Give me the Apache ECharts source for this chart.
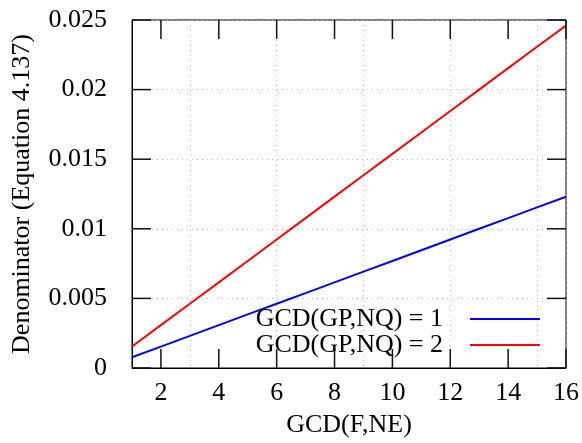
<!DOCTYPE html>
<html>
<head>
<meta charset="UTF-8">
<title>Denominator vs GCD(F,NE)</title>
<script src="https://cdn.jsdelivr.net/npm/echarts@6/dist/echarts.min.js"></script>
</head>
<body style="margin:0">
<div id="main" style="width:582px;height:443px;"></div>
<script type="text/javascript">
// data
var xValues = [1, 2, 3, 4, 5, 6, 7, 8, 9, 10, 11, 12, 13, 14, 15, 16];
var gcd1 = [0.00077, 0.00154, 0.00231, 0.00308, 0.00385, 0.00462, 0.00538, 0.00615,
            0.00692, 0.00769, 0.00846, 0.00923, 0.01000, 0.01077, 0.01154, 0.01230];
var gcd2 = [0.00154, 0.00308, 0.00462, 0.00615, 0.00769, 0.00923, 0.01077, 0.01231,
            0.01385, 0.01538, 0.01692, 0.01846, 0.02000, 0.02154, 0.02308, 0.02460];
var xTicks = [2, 4, 6, 8, 10, 12, 14, 16];
var yTicks = [0, 0.005, 0.01, 0.015, 0.02, 0.025];
var seriesNames = ['GCD(GP,NQ) = 1', 'GCD(GP,NQ) = 2'];

var font = 'Liberation Serif';
var fs = 26;
var xMin = 1, xMax = 16, yMin = 0, yMax = 0.025;

function pairs(ys) {
    var out = [];
    for (var i = 0; i < xValues.length; i++) out.push([xValues[i], ys[i]]);
    return out;
}

var myChart = echarts.init(document.getElementById('main'));

var gridLine = { show: true, lineStyle: { color: '#bbbbbb', type: [1, 4], width: 1 } };

var option = {
    animation: false,
    grid: {
        left: 132, right: 15, top: 20, bottom: 72,
        show: true, borderColor: '#000', borderWidth: 1
    },
    xAxis: {
        type: 'value', min: xMin, max: xMax,
        name: 'GCD(F,NE)', nameLocation: 'middle', nameGap: 44,
        nameTextStyle: { fontFamily: font, fontSize: fs, color: '#000' },
        axisLine: { show: true, onZero: false, lineStyle: { color: '#000' } },
        axisTick: { show: false },
        axisLabel: { customValues: xTicks, margin: 12, fontFamily: font, fontSize: fs, color: '#000' },
        splitLine: gridLine
    },
    yAxis: {
        type: 'value', min: yMin, max: yMax, interval: 0.005,
        name: 'Denominator (Equation 4.137)', nameLocation: 'middle', nameGap: 97,
        nameTextStyle: { fontFamily: font, fontSize: fs, color: '#000' },
        axisLine: { show: true, onZero: false, lineStyle: { color: '#000' } },
        axisTick: { show: false },
        axisLabel: {
            margin: 25, fontFamily: font, fontSize: fs, color: '#000',
            formatter: function (v) { return v === 0 ? '0' : String(+v.toFixed(3)); }
        },
        splitLine: gridLine
    },
    legend: {
        orient: 'vertical', align: 'right',
        right: 37, bottom: 80,
        icon: 'rect', itemWidth: 70, itemHeight: 2, itemGap: 0,
        textStyle: { fontFamily: font, fontSize: fs, color: '#000', lineHeight: 23, padding: [0, 22, 0, 0] },
        data: seriesNames
    },
    series: [{
        name: seriesNames[0], type: 'line', symbol: 'none',
        lineStyle: { color: '#0000ff', width: 2 }, itemStyle: { color: '#0000ff' },
        data: pairs(gcd1)
    }, {
        name: seriesNames[1], type: 'line', symbol: 'none',
        lineStyle: { color: '#ff0000', width: 2 }, itemStyle: { color: '#ff0000' },
        data: pairs(gcd2)
    }]
};

myChart.setOption(option);

// inward ticks on all four sides, drawn as thin filled rects placed through the chart's scales
var tickLen = 19, tickW = 1.5;
var marks = [];
function tickRect(x, y, w, h) {
    marks.push({
        type: 'rect', z: 50, silent: true,
        shape: { x: x, y: y, width: w, height: h },
        style: { fill: '#111' }
    });
}
xTicks.forEach(function (v) {
    var b = myChart.convertToPixel({ gridIndex: 0 }, [v, yMin]);
    var t = myChart.convertToPixel({ gridIndex: 0 }, [v, yMax]);
    tickRect(b[0] - tickW / 2, b[1] - tickLen, tickW, tickLen);
    tickRect(t[0] - tickW / 2, t[1], tickW, tickLen);
});
yTicks.forEach(function (v) {
    var l = myChart.convertToPixel({ gridIndex: 0 }, [xMin, v]);
    var r = myChart.convertToPixel({ gridIndex: 0 }, [xMax, v]);
    tickRect(l[0], l[1] - tickW / 2, tickLen, tickW);
    tickRect(r[0] - tickLen, r[1] - tickW / 2, tickLen, tickW);
});
myChart.setOption({ graphic: { elements: marks } });
</script>
</body>
</html>
